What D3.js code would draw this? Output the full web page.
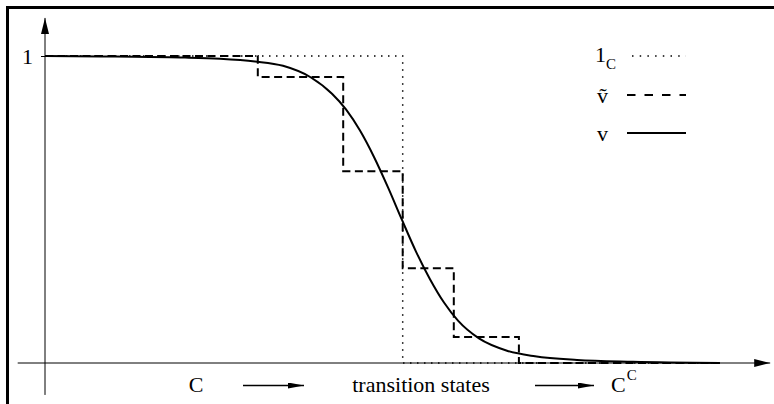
<!DOCTYPE html>
<html>
<head>
<meta charset="utf-8">
<script src="https://cdn.jsdelivr.net/npm/d3@7"></script>
<style>
  body { margin: 0; background: #fff; }
  text { font-family: "Liberation Serif", "DejaVu Serif", serif; fill: #000; }
</style>
</head>
<body>
<div id="chart"></div>
<script>
// state positions (0 = left axis) and values of v
var curveX = [0, 10, 20, 25, 30, 34, 38, 41, 43, 45, 47, 49, 51, 53, 55, 57, 59, 62, 66, 70, 76, 84, 96.4];
var curveV = [1, 0.998, 0.995, 0.991, 0.982, 0.968, 0.93, 0.877, 0.826, 0.757, 0.671, 0.572, 0.466, 0.363, 0.273, 0.197, 0.138, 0.08, 0.04, 0.022, 0.01, 0.004, 0];

// piecewise constant approximation (step edges and levels)
var stepX = [0, 30.4, 42.6, 51.1, 58.4, 67.7, 96.4];
var stepV = [1, 0.932, 0.625, 0.309, 0.085, 0, 0];

// indicator of C
var indX = [0, 51.1, 96.4];
var indV = [1, 0, 0];

var yTicks = [1];
var legendLabels = ["1", "\u1E7D", "v"];
var bottomLabels = ["C", "transition states", "C"];

var W = 774, H = 404;

var x = d3.scaleLinear().domain([0, 100]).range([45, 745]);
var y = d3.scaleLinear().domain([0, 1]).range([363, 56]);

var svg = d3.select("#chart").append("svg")
    .attr("width", W)
    .attr("height", H);

// arrow heads
var defs = svg.append("defs");
defs.append("marker")
    .attr("id", "axisArrow")
    .attr("viewBox", "0 0 16 8")
    .attr("refX", 16).attr("refY", 4)
    .attr("markerWidth", 16).attr("markerHeight", 8)
    .attr("markerUnits", "userSpaceOnUse")
    .attr("orient", "auto")
  .append("path")
    .attr("d", "M0,0 L16,4 L0,8 Z")
    .attr("fill", "#000");
defs.append("marker")
    .attr("id", "smallArrow")
    .attr("viewBox", "0 0 16 6")
    .attr("refX", 16).attr("refY", 3)
    .attr("markerWidth", 16).attr("markerHeight", 6)
    .attr("markerUnits", "userSpaceOnUse")
    .attr("orient", "auto")
  .append("path")
    .attr("d", "M0,0 L16,3 L0,6 Z")
    .attr("fill", "#000");

// frame
svg.append("path")
    .attr("d", "M7.5," + H + " V7.5 H" + W)
    .attr("fill", "none")
    .attr("stroke", "#000")
    .attr("stroke-width", 3);

// axes lines
svg.append("line")
    .attr("x1", x(-3.9)).attr("x2", x(103.6))
    .attr("y1", y(0)).attr("y2", y(0))
    .attr("stroke", "#000").attr("stroke-width", 1)
    .attr("marker-end", "url(#axisArrow)");
svg.append("line")
    .attr("x1", x(0)).attr("x2", x(0))
    .attr("y1", y(-0.104)).attr("y2", y(1.124))
    .attr("stroke", "#000").attr("stroke-width", 1)
    .attr("marker-end", "url(#axisArrow)");

// y tick "1"
var yAxis = svg.append("g")
    .attr("transform", "translate(" + x(0) + ",0)")
    .call(d3.axisLeft(y).tickValues(yTicks).tickSize(4).tickPadding(8).tickFormat(d3.format("d")));
yAxis.select(".domain").remove();
yAxis.selectAll("text")
    .style("font-family", "Liberation Serif")
    .style("font-size", "22px")
    .attr("fill", "#000");

var line = d3.line()
    .x(function(d) { return x(d[0]); })
    .y(function(d) { return y(d[1]); });

// indicator 1_C (dotted)
svg.append("path")
    .datum(indX.map(function(d, i) { return [d, indV[i]]; }))
    .attr("d", line.curve(d3.curveStepAfter))
    .attr("fill", "none")
    .attr("stroke", "#000")
    .attr("stroke-width", 1.5)
    .attr("stroke-dasharray", "1.5,5.5");

// step approximation (dashed)
svg.append("path")
    .datum(stepX.map(function(d, i) { return [d, stepV[i]]; }))
    .attr("d", line.curve(d3.curveStepAfter))
    .attr("fill", "none")
    .attr("stroke", "#000")
    .attr("stroke-width", 2)
    .attr("stroke-dasharray", "8,4.5");

// v (solid)
svg.append("path")
    .datum(curveX.map(function(d, i) { return [d, curveV[i]]; }))
    .attr("d", line.curve(d3.curveMonotoneX))
    .attr("fill", "none")
    .attr("stroke", "#000")
    .attr("stroke-width", 2);

// legend
var leg = svg.append("g");
var legY = [56, 95, 133];
var legDash = ["1.5,6.2", "8.5,9", null];
var legWidth = [1.5, 2, 2];
legendLabels.forEach(function(lab, i) {
  var t = leg.append("text")
      .attr("x", i === 0 ? 595 : 597)
      .attr("y", legY[i] + (i === 0 ? 6 : 8))
      .style("font-size", "22px")
      .text(lab);
  if (i === 0) {
    t.append("tspan")
        .attr("dy", 7)
        .style("font-size", "15px")
        .text("C");
  }
  leg.append("line")
      .attr("x1", i === 0 ? 632 : 627).attr("x2", 686)
      .attr("y1", legY[i]).attr("y2", legY[i])
      .attr("stroke", "#000")
      .attr("stroke-width", legWidth[i])
      .attr("stroke-dasharray", legDash[i]);
});

// bottom annotation
var by = 392;
svg.append("text")
    .attr("x", 196).attr("y", by)
    .attr("text-anchor", "middle")
    .style("font-size", "22px")
    .text(bottomLabels[0]);
svg.append("text")
    .attr("x", 421).attr("y", by)
    .attr("text-anchor", "middle")
    .style("font-size", "22px")
    .text(bottomLabels[1]);
svg.append("text")
    .attr("x", 611).attr("y", by)
    .style("font-size", "22px")
    .text(bottomLabels[2])
  .append("tspan")
    .attr("dy", -12)
    .attr("dx", 1)
    .style("font-size", "15px")
    .text("C");

[[243, 304], [535, 594]].forEach(function(a) {
  svg.append("line")
      .attr("x1", a[0]).attr("x2", a[1])
      .attr("y1", 385.5).attr("y2", 385.5)
      .attr("stroke", "#000").attr("stroke-width", 1.3)
      .attr("marker-end", "url(#smallArrow)");
});
</script>
</body>
</html>
